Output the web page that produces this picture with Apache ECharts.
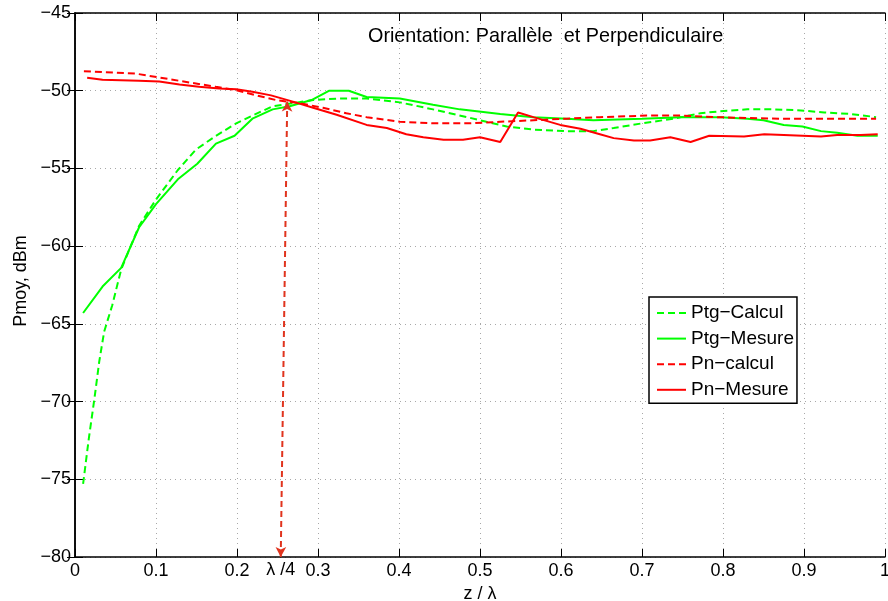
<!DOCTYPE html>
<html>
<head>
<meta charset="utf-8">
<script src="https://cdn.jsdelivr.net/npm/echarts@6/dist/echarts.min.js"></script>
<style>
  html, body { margin: 0; padding: 0; background: #fff; }
  #chart { width: 888px; height: 601px; }
</style>
</head>
<body>
<div id="chart"></div>
<script>
// Mean received power versus normalised height z/λ
const xTicks = [0, 0.1, 0.2, 0.3, 0.4, 0.5, 0.6, 0.7, 0.8, 0.9, 1];
const yTicks = [-80, -75, -70, -65, -60, -55, -50, -45];

const seriesNames = ['Ptg\u2212Calcul', 'Ptg\u2212Mesure', 'Pn\u2212calcul', 'Pn\u2212Mesure'];

// [z/λ, dBm]
const ptgCalcul = [
  [0.010, -75.3], [0.017, -72.4], [0.024, -69.8], [0.030, -67.4], [0.036, -65.5],
  [0.046, -63.8], [0.057, -61.5], [0.079, -58.7], [0.100, -57.0], [0.127, -55.1],
  [0.149, -53.8], [0.174, -52.9], [0.199, -52.1], [0.219, -51.6], [0.244, -51.0],
  [0.269, -50.8], [0.294, -50.6], [0.327, -50.5], [0.360, -50.5], [0.401, -50.75],
  [0.442, -51.2], [0.484, -51.7], [0.508, -52.0], [0.533, -52.3], [0.566, -52.5],
  [0.607, -52.6], [0.640, -52.6], [0.665, -52.4], [0.700, -52.1], [0.739, -51.8],
  [0.772, -51.45], [0.801, -51.3], [0.830, -51.2], [0.863, -51.2], [0.892, -51.25],
  [0.925, -51.4], [0.958, -51.5], [0.989, -51.7]
];

const ptgMesure = [
  [0.010, -64.3], [0.034, -62.6], [0.057, -61.4], [0.079, -58.8], [0.100, -57.3],
  [0.127, -55.7], [0.151, -54.7], [0.174, -53.4], [0.197, -52.9], [0.219, -51.8],
  [0.244, -51.2], [0.265, -51.0], [0.292, -50.6], [0.314, -50.0], [0.338, -50.0],
  [0.360, -50.4], [0.401, -50.5], [0.442, -50.9], [0.475, -51.2], [0.525, -51.5],
  [0.566, -51.7], [0.607, -51.8], [0.640, -51.9], [0.700, -51.8], [0.748, -51.7],
  [0.797, -51.7], [0.830, -51.8], [0.850, -51.9], [0.875, -52.2], [0.898, -52.3],
  [0.921, -52.6], [0.941, -52.7], [0.966, -52.9], [0.991, -52.9]
];

const pnCalcul = [
  [0.011, -48.75], [0.034, -48.8], [0.075, -48.9], [0.104, -49.15], [0.145, -49.5],
  [0.174, -49.75], [0.199, -49.96], [0.224, -50.3], [0.248, -50.6], [0.277, -50.8],
  [0.306, -51.1], [0.335, -51.45], [0.360, -51.7], [0.401, -52.0], [0.442, -52.1],
  [0.484, -52.1], [0.525, -52.0], [0.566, -51.9], [0.607, -51.8], [0.648, -51.7],
  [0.706, -51.6], [0.748, -51.6], [0.789, -51.7], [0.830, -51.75], [0.871, -51.8],
  [0.913, -51.8], [0.989, -51.8]
];

const pnMesure = [
  [0.015, -49.17], [0.034, -49.3], [0.079, -49.36], [0.104, -49.4], [0.129, -49.6],
  [0.153, -49.75], [0.178, -49.85], [0.199, -49.9], [0.219, -50.07], [0.242, -50.3],
  [0.269, -50.7], [0.294, -51.1], [0.323, -51.55], [0.360, -52.2], [0.385, -52.4],
  [0.409, -52.8], [0.430, -53.0], [0.455, -53.15], [0.479, -53.15], [0.500, -53.0],
  [0.525, -53.3], [0.547, -51.4], [0.566, -51.7], [0.599, -52.2], [0.624, -52.45],
  [0.648, -52.8], [0.665, -53.05], [0.690, -53.2], [0.710, -53.2], [0.735, -53.0],
  [0.760, -53.3], [0.783, -52.9], [0.826, -52.95], [0.851, -52.8], [0.875, -52.85],
  [0.921, -52.95], [0.941, -52.85], [0.970, -52.85], [0.991, -52.8]
];

// quarter-wavelength marker arrow
const arrowBottom = [0.254, -80];
const arrowTop = [0.262, -50.7];
const arrowLabel = '\u03bb /4';

const titleText = 'Orientation: Parall\u00e8le  et Perpendiculaire';

const FONT = 'Liberation Sans, Arial, Helvetica, sans-serif';
const GREEN = '#00ff00';
const RED = '#ff0000';
const DASH = [7, 4];

const minus = v => String(v).replace('-', '\u2212');

const chart = echarts.init(document.getElementById('chart'), null, { renderer: 'canvas' });

function lineSeries(name, data, color, dashed, z) {
  return {
    name: name,
    type: 'line',
    data: data,
    symbol: 'none',
    showSymbol: false,
    smooth: false,
    animation: false,
    z: z,
    lineStyle: { color: color, width: 2, type: dashed ? DASH : 'solid' },
    itemStyle: { color: color }
  };
}

const baseAxisLine = { show: true, lineStyle: { color: '#000', width: 1.5 } };
const baseTick = { show: true, inside: true, length: 8, lineStyle: { color: '#000', width: 1 } };
const grid = { show: true, lineStyle: { color: '#a8a8a8', width: 1, type: [1, 4] } };

const series = [
  lineSeries(seriesNames[0], ptgCalcul, GREEN, true, 2),
  lineSeries(seriesNames[1], ptgMesure, GREEN, false, 3),
  lineSeries(seriesNames[2], pnCalcul, RED, true, 4),
  lineSeries(seriesNames[3], pnMesure, RED, false, 5),
  {
    type: 'line',
    data: [],
    z: 6,
    animation: false,
    markLine: {
      silent: true,
      animation: false,
      symbol: ['arrow', 'arrow'],
      symbolSize: [8, 10],
      lineStyle: { color: '#e0341e', width: 2, type: [6, 4] },
      label: {
        show: true,
        position: 'start',
        distance: 4,
        formatter: arrowLabel,
        color: '#000',
        fontFamily: FONT,
        fontSize: 18
      },
      data: [[{ coord: arrowBottom }, { coord: arrowTop }]]
    }
  }
];

const option = {
  backgroundColor: '#fff',
  animation: false,
  title: {
    text: titleText,
    left: 368,
    top: 27,
    padding: 0,
    textStyle: { fontFamily: FONT, fontSize: 19.8, fontWeight: 'normal', color: '#000' }
  },
  grid: {
    left: 75, right: 3, top: 13, bottom: 44,
    containLabel: false,
    outerBoundsMode: 'none'
  },
  legend: {
    orient: 'vertical',
    left: 649,
    top: 297,
    padding: [6, 3, 3.5, 7],
    itemWidth: 29,
    itemHeight: 14,
    itemGap: 5.6,
    backgroundColor: '#fff',
    borderColor: '#000',
    borderWidth: 1.5,
    borderRadius: 0,
    itemStyle: { opacity: 0, borderWidth: 0 },
    data: seriesNames,
    textStyle: { fontFamily: FONT, fontSize: 19, color: '#000', lineHeight: 20 }
  },
  xAxis: [
    {
      type: 'value',
      position: 'bottom',
      min: xTicks[0],
      max: xTicks[xTicks.length - 1],
      interval: 0.1,
      name: 'z / \u03bb',
      nameLocation: 'middle',
      nameGap: 22,
      nameTextStyle: { fontFamily: FONT, fontSize: 18, color: '#000' },
      axisLine: baseAxisLine,
      axisTick: baseTick,
      splitLine: grid,
      axisLabel: {
        margin: 5,
        fontFamily: FONT,
        fontSize: 18,
        color: '#000',
        formatter: v => String(Math.round(v * 10) / 10)
      }
    },
    {
      type: 'value',
      position: 'top',
      min: xTicks[0],
      max: xTicks[xTicks.length - 1],
      interval: 0.1,
      axisLine: baseAxisLine,
      axisTick: baseTick,
      splitLine: { show: false },
      axisLabel: { show: false }
    }
  ],
  yAxis: [
    {
      type: 'value',
      position: 'left',
      min: yTicks[0],
      max: yTicks[yTicks.length - 1],
      interval: 5,
      name: 'Pmoy, dBm',
      nameLocation: 'middle',
      nameGap: 41,
      nameTextStyle: { fontFamily: FONT, fontSize: 18, color: '#000', padding: [0, 0, 0, 8] },
      axisLine: baseAxisLine,
      axisTick: baseTick,
      splitLine: grid,
      axisLabel: {
        margin: 4,
        fontFamily: FONT,
        fontSize: 18,
        color: '#000',
        formatter: minus
      }
    },
    {
      type: 'value',
      position: 'right',
      min: yTicks[0],
      max: yTicks[yTicks.length - 1],
      interval: 5,
      axisLine: baseAxisLine,
      axisTick: baseTick,
      splitLine: { show: false },
      axisLabel: { show: false }
    }
  ],
  series: series
};

chart.setOption(option);
</script>
</body>
</html>
